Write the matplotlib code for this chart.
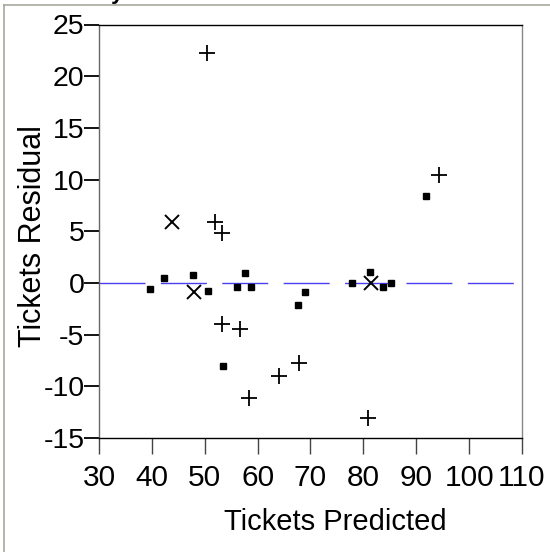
import matplotlib
matplotlib.use("Agg")
import matplotlib.pyplot as plt
from matplotlib.lines import Line2D

# residuals, one list pair per marker type
square_pred = [39.7, 42.3, 47.8, 50.6, 53.4, 56.1, 57.7, 58.8, 67.7, 68.9, 77.8, 81.3, 83.7, 85.3, 91.8]
square_resid = [-0.6, 0.45, 0.77, -0.8, -8.0, -0.35, 1.0, -0.35, -2.1, -0.84, -0.03, 1.03, -0.35, -0.03, 8.4]

plus_pred = [50.4, 52.0, 53.2, 53.3, 56.7, 58.4, 64.0, 67.9, 80.8, 94.3]
plus_resid = [22.2, 5.9, 4.8, -3.96, -4.45, -11.1, -9.0, -7.7, -13.1, 10.44]

cross_pred = [43.9, 47.9, 81.5]
cross_resid = [5.87, -0.86, -0.03]

x_ticks = [30, 40, 50, 60, 70, 80, 90, 100, 110]
y_ticks = [-15, -10, -5, 0, 5, 10, 15, 20, 25]

plt.rcParams['font.family'] = ['Liberation Sans', 'DejaVu Sans']
plt.rcParams['axes.unicode_minus'] = False
plt.rcParams['lines.scale_dashes'] = False

W, H = 550, 552
fig = plt.figure(figsize=(W / 100, H / 100), dpi=100)

# outer frame (only left and top edges fall inside the image)
fig.add_artist(Line2D([4 / W, 4 / W], [0, 1 - 5 / H], color='#a8a8a0', lw=1.2))
fig.add_artist(Line2D([4 / W, 1], [1 - 5 / H, 1 - 5 / H], color='#a8a8a0', lw=1.2))

# title mostly cut off at the top edge
fig.text(-1 / W, 1 + 1.5 / H, "Residual by Predicted Plot", fontsize=16,
         fontweight='bold', va='baseline', ha='left')

ax = fig.add_axes([99 / W, 1 - 438 / H, 423 / W, 413.5 / H])

ax.axhline(0, color='#4a3ff0', lw=1.0, linestyle=(0, (33.1, 11.1)), zorder=1)

ax.plot(square_pred, square_resid, 's', color='black', markersize=4.3, zorder=3)
ax.plot(plus_pred, plus_resid, '+', color='black', markersize=11, mew=1.3, zorder=3)
ax.plot(cross_pred, cross_resid, 'x', color='black', markersize=10, mew=1.4, zorder=3)

ax.set_xlim(30, 110)
ax.set_ylim(-15, 25)
ax.set_xticks(x_ticks)
ax.set_yticks(y_ticks)

ax.spines['top'].set_color('black')
ax.spines['bottom'].set_color('black')
ax.spines['left'].set_color('#666666')
ax.spines['right'].set_color('#888888')
for s in ax.spines.values():
    s.set_linewidth(1.0)

ax.tick_params(axis='y', direction='out', length=10.5, width=1.3, color='black',
               labelsize=20.5, pad=0)
ax.tick_params(axis='x', direction='out', length=11.5, width=1.0, color='#444444',
               labelsize=21.5, pad=7.5)

# axis titles placed where they sit in the reference
fig.text(335.5 / W, 1 - 508 / H, "Tickets Predicted", fontsize=21, ha='center', va='top')
fig.text(18 / W, 1 - 236 / H, "Tickets Residual", fontsize=22, rotation=90,
         ha='left', va='center')

fig.savefig("out.png", dpi=100)
